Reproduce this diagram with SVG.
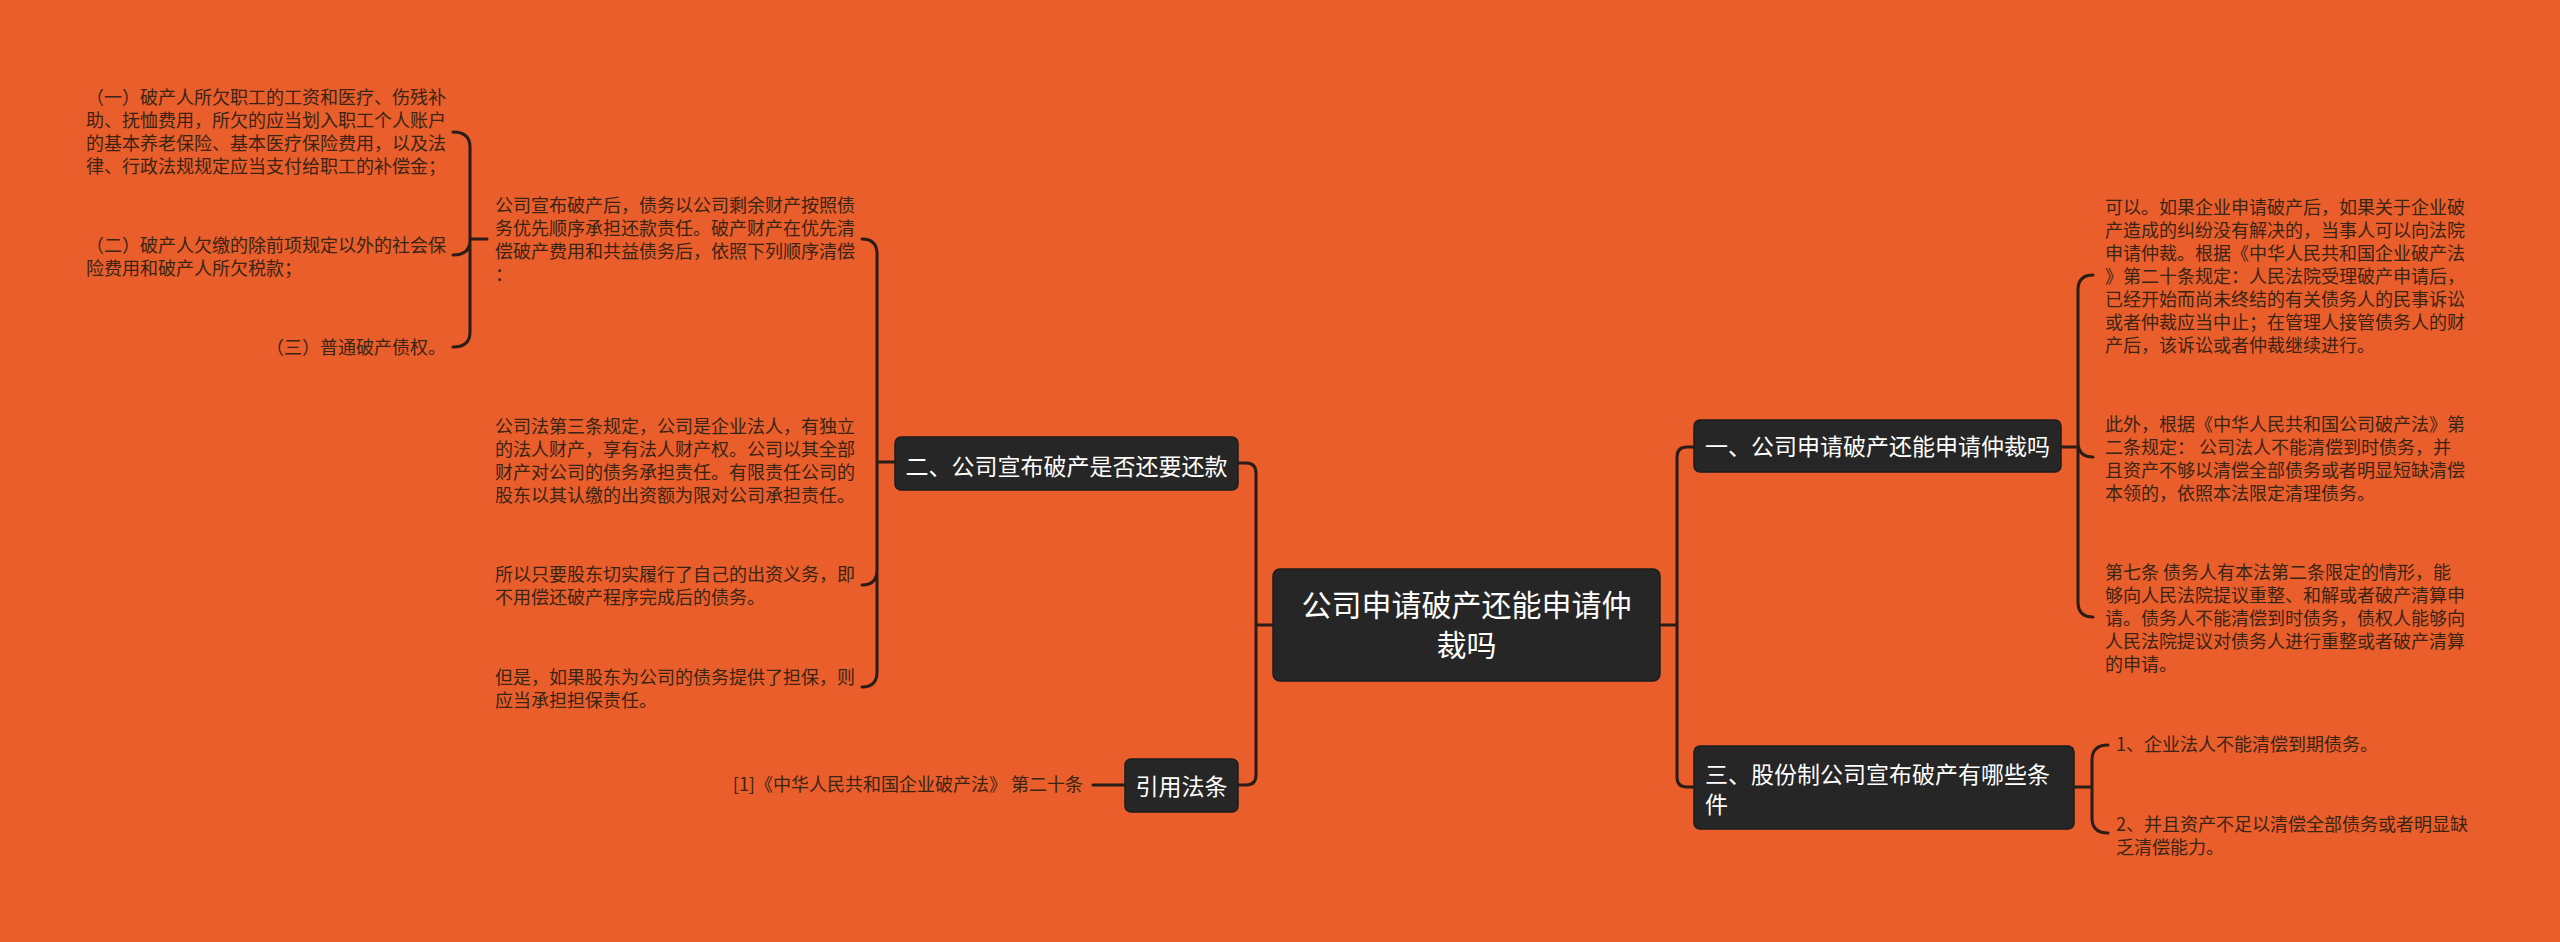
<svg xmlns="http://www.w3.org/2000/svg" width="2560" height="942" viewBox="0 0 2560 942">
<style>
.leaf{font-family:"Noto Sans CJK SC","Noto Sans",sans-serif;font-size:18px;fill:#3a2416;}
.nt{font-family:"Noto Sans CJK SC","Noto Sans",sans-serif;fill:#ffffff;}
.box{fill:#262626;stroke:#1c1c1c;stroke-width:1.5;}
.con{fill:none;stroke:#2a1c16;stroke-width:3;stroke-linecap:round;stroke-linejoin:round;}
</style>
<rect x="0" y="0" width="2560" height="942" fill="#E95E2A"/>
<g id="connectors">
<path class="con" d="M1273,625 H1256 M1238,463 H1246 Q1256,463 1256,473 V775 Q1256,785 1246,785 H1238"/>
<path class="con" d="M1660,625 H1677 M1694,447 H1687 Q1677,447 1677,457 V777 Q1677,787 1687,787 H1694"/>
<path class="con" d="M895,462 H877 M862,239 Q877,239 877,254 V672 Q877,687 862,687 M862,585 Q877,585 877,570"/>
<path class="con" d="M487,239 H470 M453,132 Q470,132 470,147 V332 Q470,347 453,347 M453,255 Q470,255 470,240"/>
<path class="con" d="M1125,785 H1093"/>
<path class="con" d="M2061,447 H2078 M2093,275 Q2078,275 2078,290 V602 Q2078,617 2093,617 M2093,457 Q2078,457 2078,442"/>
<path class="con" d="M2074,787 H2092 M2108,745 Q2092,745 2092,760 V818 Q2092,833 2108,833"/>
</g>
<g id="center">
<rect class="box" x="1273" y="569" width="387" height="112" rx="7"/>
<text class="nt" font-size="30" text-anchor="middle"><tspan x="1466.5" y="616">公司申请破产还能申请仲</tspan><tspan x="1466.5" y="656">裁吗</tspan></text>
</g>
<g id="node-er">
<rect class="box" x="895" y="437" width="343" height="53" rx="6"/>
<text class="nt" font-size="23" text-anchor="middle" x="1066.5" y="475">二、公司宣布破产是否还要还款</text>
</g>
<g id="node-cite">
<rect class="box" x="1125" y="759" width="113" height="53" rx="6"/>
<text class="nt" font-size="23" text-anchor="middle" x="1181.5" y="795">引用法条</text>
</g>
<g id="node-yi">
<rect class="box" x="1694" y="420" width="367" height="52" rx="6"/>
<text class="nt" font-size="23" text-anchor="middle" x="1877.5" y="455">一、公司申请破产还能申请仲裁吗</text>
</g>
<g id="node-san">
<rect class="box" x="1694" y="746" width="380" height="83" rx="6"/>
<text class="nt" font-size="23"><tspan x="1705" y="783">三、股份制公司宣布破产有哪些条</tspan><tspan x="1705" y="813">件</tspan></text>
</g>
<g id="leaf-a">
<text class="leaf"><tspan x="495" y="212">公司宣布破产后，债务以公司剩余财产按照债</tspan><tspan x="495" y="235">务优先顺序承担还款责任。破产财产在优先清</tspan><tspan x="495" y="258">偿破产费用和共益债务后，依照下列顺序清偿</tspan><tspan x="495" y="281">：</tspan></text>
</g>
<g id="leaf-a1">
<text class="leaf"><tspan x="86" y="104">（一）破产人所欠职工的工资和医疗、伤残补</tspan><tspan x="86" y="127">助、抚恤费用，所欠的应当划入职工个人账户</tspan><tspan x="86" y="150">的基本养老保险、基本医疗保险费用，以及法</tspan><tspan x="86" y="173">律、行政法规规定应当支付给职工的补偿金；</tspan></text>
</g>
<g id="leaf-a2">
<text class="leaf"><tspan x="86" y="252">（二）破产人欠缴的除前项规定以外的社会保</tspan><tspan x="86" y="275">险费用和破产人所欠税款；</tspan></text>
</g>
<g id="leaf-a3">
<text class="leaf" x="266" y="354">（三）普通破产债权。</text>
</g>
<g id="leaf-b">
<text class="leaf"><tspan x="495" y="433">公司法第三条规定，公司是企业法人，有独立</tspan><tspan x="495" y="456">的法人财产，享有法人财产权。公司以其全部</tspan><tspan x="495" y="479">财产对公司的债务承担责任。有限责任公司的</tspan><tspan x="495" y="502">股东以其认缴的出资额为限对公司承担责任。</tspan></text>
</g>
<g id="leaf-c">
<text class="leaf"><tspan x="495" y="581">所以只要股东切实履行了自己的出资义务，即</tspan><tspan x="495" y="604">不用偿还破产程序完成后的债务。</tspan></text>
</g>
<g id="leaf-d">
<text class="leaf"><tspan x="495" y="684">但是，如果股东为公司的债务提供了担保，则</tspan><tspan x="495" y="707">应当承担担保责任。</tspan></text>
</g>
<g id="leaf-cite">
<text class="leaf" text-anchor="end" x="1083" y="791">[1]《中华人民共和国企业破产法》 第二十条</text>
</g>
<g id="leaf-r1">
<text class="leaf"><tspan x="2105" y="214">可以。如果企业申请破产后，如果关于企业破</tspan><tspan x="2105" y="237">产造成的纠纷没有解决的，当事人可以向法院</tspan><tspan x="2105" y="260">申请仲裁。根据《中华人民共和国企业破产法</tspan><tspan x="2105" y="283">》第二十条规定：人民法院受理破产申请后，</tspan><tspan x="2105" y="306">已经开始而尚未终结的有关债务人的民事诉讼</tspan><tspan x="2105" y="329">或者仲裁应当中止；在管理人接管债务人的财</tspan><tspan x="2105" y="352">产后，该诉讼或者仲裁继续进行。</tspan></text>
</g>
<g id="leaf-r2">
<text class="leaf"><tspan x="2105" y="431">此外，根据《中华人民共和国公司破产法》第</tspan><tspan x="2105" y="454">二条规定： 公司法人不能清偿到时债务，并</tspan><tspan x="2105" y="477">且资产不够以清偿全部债务或者明显短缺清偿</tspan><tspan x="2105" y="500">本领的，依照本法限定清理债务。</tspan></text>
</g>
<g id="leaf-r3">
<text class="leaf"><tspan x="2105" y="579">第七条 债务人有本法第二条限定的情形，能</tspan><tspan x="2105" y="602">够向人民法院提议重整、和解或者破产清算申</tspan><tspan x="2105" y="625">请。债务人不能清偿到时债务，债权人能够向</tspan><tspan x="2105" y="648">人民法院提议对债务人进行重整或者破产清算</tspan><tspan x="2105" y="671">的申请。</tspan></text>
</g>
<g id="leaf-s1">
<text class="leaf" x="2116" y="751">1、企业法人不能清偿到期债务。</text>
</g>
<g id="leaf-s2">
<text class="leaf"><tspan x="2116" y="831">2、并且资产不足以清偿全部债务或者明显缺</tspan><tspan x="2116" y="854">乏清偿能力。</tspan></text>
</g>
</svg>
